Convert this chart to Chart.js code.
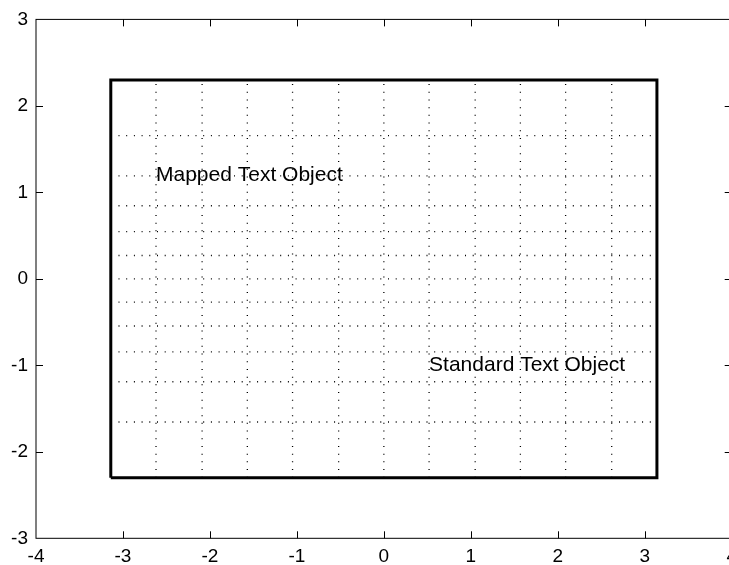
<!DOCTYPE html>
<html>
<head>
<meta charset="utf-8">
<script src="https://cdn.jsdelivr.net/npm/chart.js@4.4.0/dist/chart.umd.min.js"></script>
<style>
html, body { margin: 0; padding: 0; overflow: hidden; background: #fff; }
canvas { display: block; }
</style>
</head>
<body>
<canvas id="myChart" width="744" height="565"></canvas>
<script>
// positions of the dotted lines inside the box
const gridXs = [-2.62, -2.09, -1.57, -1.05, -0.52, 0, 0.52, 1.05, 1.57, 2.09, 2.62];
const gridYs = [-1.655, -1.19, -0.845, -0.545, -0.27, 0, 0.27, 0.545, 0.845, 1.19, 1.655];
// thick box
const boxXs = [-3.14, -3.14, 3.14, 3.14, -3.14];
const boxYs = [-2.3, 2.3, 2.3, -2.3, -2.3];
// text objects
const textLabels = ['Mapped Text Object', 'Standard Text Object'];
const textXs = [-2.62, 0.52];
const textYs = [1.2, -1.0];

const FONT = '"Liberation Sans", Arial, Helvetica, sans-serif';

function vLines(xs, lo, hi) {
    const pts = [];
    xs.forEach(x => {
        pts.push({x: x, y: lo}, {x: x, y: hi}, {x: x, y: null});
    });
    return pts;
}
function hLines(ys, lo, hi) {
    const pts = [];
    ys.forEach(y => {
        pts.push({x: lo, y: y}, {x: hi, y: y}, {x: null, y: null});
    });
    return pts;
}

const framePlugin = {
    id: 'frame',
    beforeDatasetsDraw(chart) {
        const ctx = chart.ctx;
        const xs = chart.scales.x, ys = chart.scales.y;
        ctx.save();
        ctx.fillStyle = '#000';
        ctx.font = '21px ' + FONT;
        ctx.textAlign = 'left';
        ctx.textBaseline = 'middle';
        textLabels.forEach((t, i) => {
            ctx.fillText(t, xs.getPixelForValue(textXs[i]), ys.getPixelForValue(textYs[i]));
        });
        ctx.restore();
    },
    afterDraw(chart) {
        const ctx = chart.ctx;
        const a = chart.chartArea;
        const xs = chart.scales.x, ys = chart.scales.y;
        const tl = 7;
        ctx.save();
        ctx.strokeStyle = '#000';
        ctx.lineWidth = 1;
        ctx.strokeRect(a.left, a.top, a.right - a.left, a.bottom - a.top);
        ctx.beginPath();
        xs.ticks.forEach(t => {
            if (t.value <= xs.min || t.value >= xs.max) return;
            const p = Math.round(xs.getPixelForValue(t.value)) + 0.5;
            ctx.moveTo(p, a.bottom); ctx.lineTo(p, a.bottom - tl);
            ctx.moveTo(p, a.top); ctx.lineTo(p, a.top + tl);
        });
        ys.ticks.forEach(t => {
            if (t.value <= ys.min || t.value >= ys.max) return;
            const p = Math.round(ys.getPixelForValue(t.value)) + 0.5;
            ctx.moveTo(a.left, p); ctx.lineTo(a.left + tl, p);
            ctx.moveTo(a.right, p); ctx.lineTo(a.right - tl, p);
        });
        ctx.stroke();
        ctx.restore();
    }
};

const ctx = document.getElementById('myChart');

new Chart(ctx, {
    type: 'scatter',
    data: {
        datasets: [{
            data: boxXs.map((x, i) => ({x: x, y: boxYs[i]})),
            showLine: true,
            borderColor: '#000',
            borderWidth: 3,
            borderJoinStyle: 'miter',
            pointRadius: 0
        }, {
            data: vLines(gridXs, -2.3, 2.3),
            showLine: true,
            spanGaps: false,
            borderColor: '#000',
            borderWidth: 1.3,
            borderDash: [1, 6.7],
            pointRadius: 0
        }, {
            data: hLines(gridYs, -3.14, 3.14),
            showLine: true,
            spanGaps: false,
            borderColor: '#000',
            borderWidth: 1.3,
            borderDash: [1, 6.7],
            pointRadius: 0
        }]
    },
    options: {
        responsive: false,
        animation: false,
        events: [],
        layout: {
            autoPadding: false,
            padding: {top: 18.7, right: 1.9, left: 0, bottom: 0}
        },
        plugins: {
            legend: {display: false},
            tooltip: {enabled: false}
        },
        scales: {
            x: {
                type: 'linear',
                min: -4,
                max: 4,
                ticks: {stepSize: 1, color: '#000', font: {family: FONT, size: 19}, padding: 7},
                grid: {display: false, drawTicks: false},
                border: {display: false},
                afterFit: s => { s.height = 26.7; }
            },
            y: {
                type: 'linear',
                min: -3,
                max: 3,
                ticks: {stepSize: 1, color: '#000', font: {family: FONT, size: 19}, padding: 8},
                grid: {display: false, drawTicks: false},
                border: {display: false},
                afterFit: s => { s.width = 36; }
            }
        }
    },
    plugins: [framePlugin]
});
</script>
</body>
</html>
